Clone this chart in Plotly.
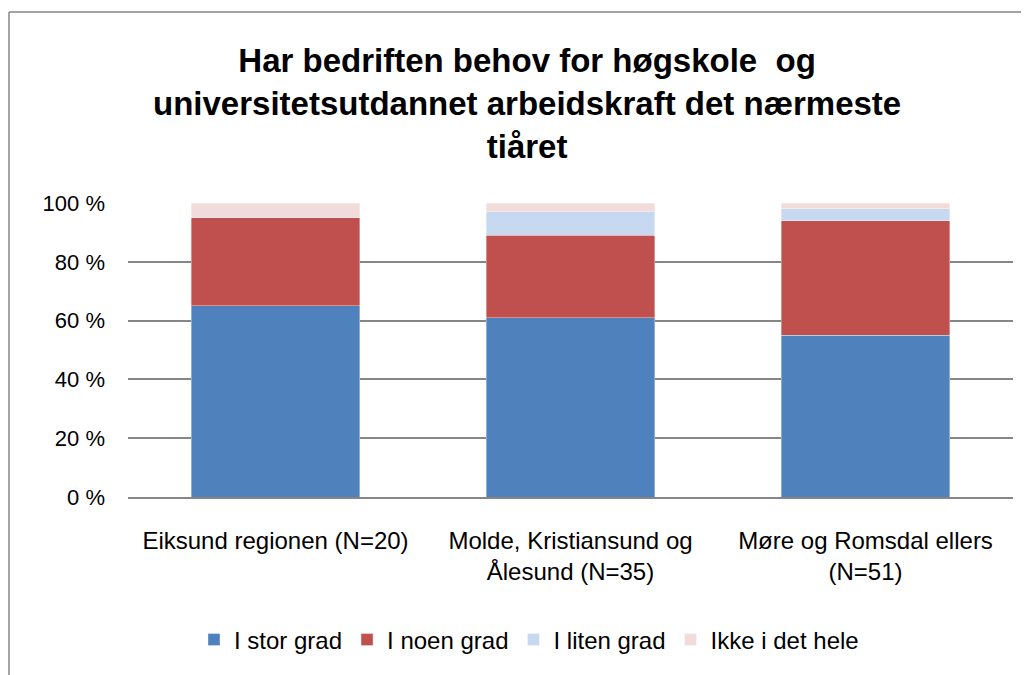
import plotly.graph_objects as go

categories = ["Eiksund regionen (N=20)", "Molde, Kristiansund og<br>Ålesund (N=35)", "Møre og Romsdal ellers<br>(N=51)"]
series_names = ["I stor grad", "I noen grad", "I liten grad", "Ikke i det hele"]
stor_grad = [65, 61, 55]
noen_grad = [30, 28, 39]
liten_grad = [0, 8, 4]
ikke_hele = [5, 3, 2]
colors = ["#4F81BD", "#C0504D", "#C6D9F1", "#F2DCDB"]
tick_vals = [0, 20, 40, 60, 80, 100]
tick_text = ["0 %", "20 %", "40 %", "60 %", "80 %", "100 %"]
title_text = "Har bedriften behov for høgskole  og<br>universitetsutdannet arbeidskraft det nærmeste<br>tiåret"

# the page shows the figure shifted by the browser's default body margin
OFF = 8
W, H = 1029, 675
L, R, T, B = 128 - OFF, 1029 - (1013 - OFF), 203 - OFF, 675 - (497 - OFF)
pw, ph = W - L - R, H - T - B

def px_x(x):
    return (x - OFF - L) / pw

def px_y(y):
    return (H - B - (y - OFF)) / ph

fig = go.Figure()
for name, vals, col in zip(series_names, [stor_grad, noen_grad, liten_grad, ikke_hele], colors):
    fig.add_trace(go.Bar(x=categories, y=vals, name=name,
                         marker=dict(color=col, line=dict(color="rgba(255,255,255,0.6)", width=0.6))))

font_family = "Liberation Sans, Arial, sans-serif"
border = dict(color="#868686", width=1.5)
fig.update_layout(
    width=W, height=H,
    barmode="stack", bargap=0.43,
    margin=dict(l=L, r=R, t=T, b=B),
    paper_bgcolor="white", plot_bgcolor="white",
    font=dict(family=font_family, color="#000000", size=24),
    showlegend=True,
    legend=dict(orientation="h", x=px_x(529), xanchor="center", y=px_y(640), yanchor="middle",
                font=dict(size=24), traceorder="normal", bgcolor="rgba(0,0,0,0)"),
    annotations=[dict(text=title_text, xref="paper", yref="paper",
                      x=px_x(527), y=px_y(103), xanchor="center", yanchor="middle",
                      showarrow=False, align="center",
                      font=dict(family=font_family, size=33, color="#000000", weight="bold"))],
    shapes=[
        dict(type="line", xref="paper", yref="paper",
             x0=px_x(9), x1=px_x(9), y0=px_y(700), y1=px_y(12), line=border, layer="below"),
        dict(type="line", xref="paper", yref="paper",
             x0=px_x(9), x1=px_x(1060), y0=px_y(12), y1=px_y(12), line=border, layer="below"),
    ],
)
fig.update_yaxes(range=[0, 100], tickvals=tick_vals, ticktext=tick_text,
                 showgrid=True, gridcolor="#868686", gridwidth=1.5,
                 zeroline=False, showline=False, ticks="", ticklabelstandoff=22,
                 tickfont=dict(size=22, family=font_family, color="#000000"))
fig.update_xaxes(showline=True, linecolor="#868686", linewidth=2, ticks="",
                 ticklabelstandoff=21, tickfont=dict(size=24, family=font_family, color="#000000"))

fig.write_html("out.html")
